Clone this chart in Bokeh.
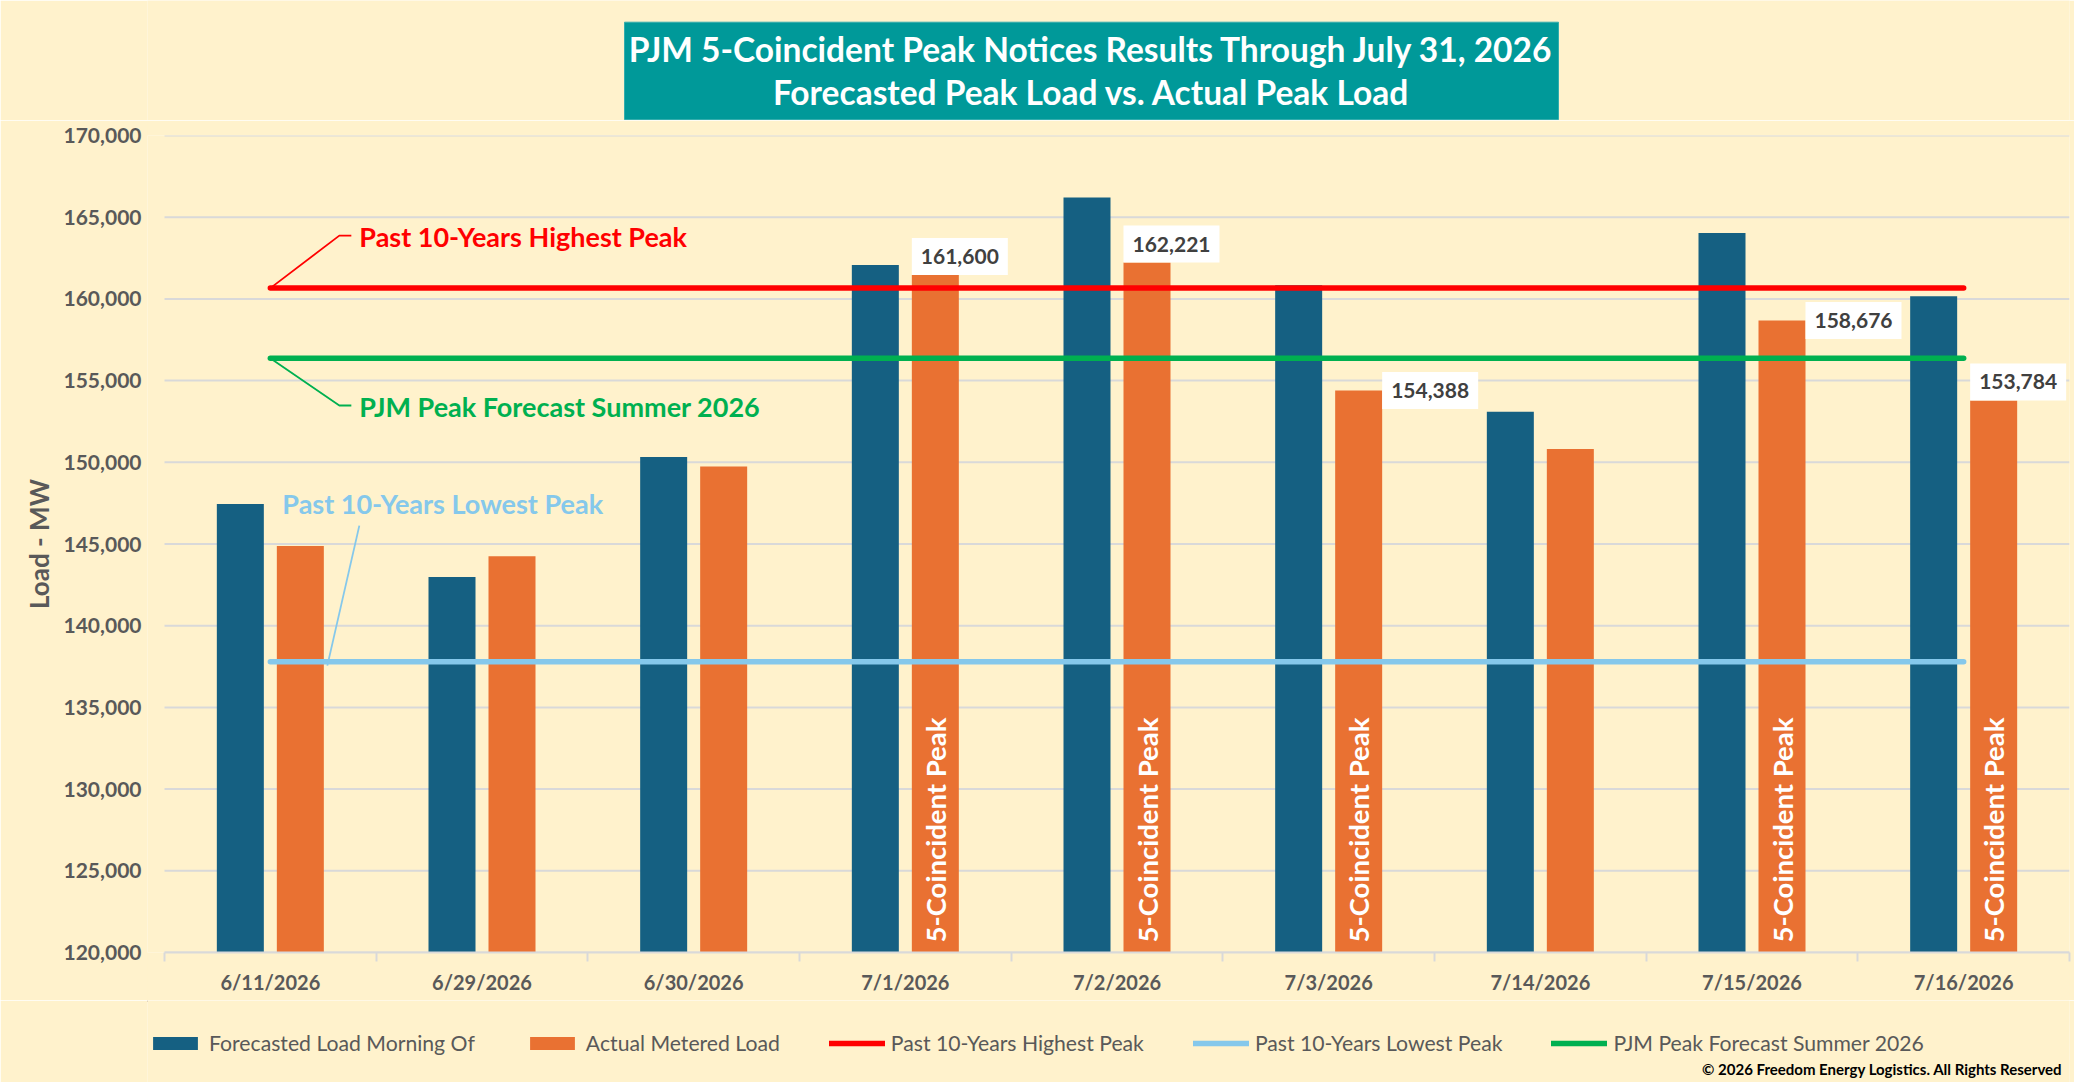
import numpy as np
from bokeh.plotting import figure
from bokeh.layouts import column
from bokeh.models import Range1d, FixedTicker, Legend, LegendItem, NumeralTickFormatter
from bokeh.core.properties import value
from bokeh.embed import file_html
from bokeh.resources import INLINE

# ---------------- data ----------------
dates = ["6/11/2026", "6/29/2026", "6/30/2026", "7/1/2026", "7/2/2026",
         "7/3/2026", "7/14/2026", "7/15/2026", "7/16/2026"]
forecast_load = [147450, 142980, 150320, 162080, 166210, 160830, 153100, 164040, 160160]
actual_load = [144880, 144250, 149740, 161460, 162221, 154388, 150820, 158676, 153784]
is_5cp = [False, False, False, True, True, True, False, True, True]
cp_value_labels = ["161,600", "162,221", "154,388", "158,676", "153,784"]
cp_label_side = ["above", "above", "right", "right", "above"]
past10_high = 160660
past10_low = 137800
pjm_forecast = 156370
y_ticks = [120000, 125000, 130000, 135000, 140000, 145000,
           150000, 155000, 160000, 165000, 170000]

title_lines = ["PJM 5-Coincident Peak Notices Results Through July 31, 2026",
               "Forecasted Peak Load vs. Actual Peak Load"]
series_names = ["Forecasted Load Morning Of", "Actual Metered Load",
                "Past 10-Years Highest Peak", "Past 10-Years Lowest Peak",
                "PJM Peak Forecast Summer 2026"]
cp_text = "5-Coincident Peak"
copyright_text = "\u00a9 2026 Freedom Energy Logistics. All Rights Reserved"

# ---------------- style ----------------
BG = "#FFF2CC"
BLUE = "#156082"
ORANGE = "#E97132"
RED = "#FF0000"
LBLUE = "#85C8EB"
GREEN = "#00B050"
GRID = "#D9D9D9"
GRAY = "#595959"
TEAL = "#009999"
FONT = "Lato"

W = 2074
TOP_H, MAIN_H, BOT_H = 120, 880, 82
AXIS_LEFT = 164            # where the category axis begins (px)
ML, MR, MT, MB = 147, 5, 15, 48   # frame starts a little left of the axis (legend room)
n = len(dates)
cx = (W - AXIS_LEFT - MR) / n                          # px per category
cy = (MAIN_H - MT - MB) / (y_ticks[-1] - y_ticks[0])  # px per MW


def dx(px):
    return px / cx


def dy(px):
    return px / cy


def decor_figure(h):
    # frames of a column are aligned with the main chart -> data x == page px
    f = figure(width=W, height=h, x_range=Range1d(ML, W - MR), y_range=Range1d(h, 0),
               output_backend="svg", toolbar_location=None, tools="",
               x_axis_location=None, y_axis_location=None,
               min_border=0, background_fill_color=BG, border_fill_color=BG,
               outline_line_color=None)
    f.xgrid.visible = False
    f.ygrid.visible = False
    return f


# ================= title strip =================
top = decor_figure(TOP_H)
top.quad(left=[624], right=[1558], top=[21.7], bottom=[119],
         fill_color=TEAL, line_color="#33ADAD", line_width=1)
top.text(x=[1091, 1091], y=[48.5, 91], text=title_lines,
         text_align="center", text_baseline="middle", text_color="white",
         text_font=value(FONT), text_font_style="bold", text_font_size="33.5px")

# ================= main chart =================
p = figure(width=W, height=MAIN_H, x_range=Range1d(-dx(AXIS_LEFT - ML), n),
           y_range=Range1d(y_ticks[0], y_ticks[-1]),
           output_backend="svg", toolbar_location=None, tools="",
           min_border_left=ML, min_border_right=MR,
           min_border_top=MT, min_border_bottom=MB,
           background_fill_color=BG, border_fill_color=BG,
           outline_line_color=None)

centers = np.arange(n) + 0.5
bar_w = dx(47)
off = dx(30)
xf = centers - off
xa = centers + off

# horizontal gridlines spanning the category axis only
p.xgrid.visible = False
p.ygrid.visible = False
p.segment(x0=[0] * len(y_ticks), x1=[n] * len(y_ticks), y0=y_ticks, y1=y_ticks,
          line_color=GRID, line_width=2)

p.yaxis.ticker = FixedTicker(ticks=y_ticks)
p.yaxis.formatter = NumeralTickFormatter(format="0,0")
p.yaxis.axis_line_color = None
p.yaxis.major_tick_line_color = None
p.yaxis.minor_tick_line_color = None
p.yaxis.major_tick_out = 0
p.yaxis.minor_tick_out = 0
p.yaxis.major_label_standoff = 23 - (AXIS_LEFT - ML)
p.yaxis.major_label_text_font = FONT
p.yaxis.major_label_text_font_style = "bold"
p.yaxis.major_label_text_font_size = "21px"
p.yaxis.major_label_text_color = GRAY
p.yaxis.axis_label = "Load - MW"
p.yaxis.axis_label_text_font = FONT
p.yaxis.axis_label_text_font_style = "bold"
p.yaxis.axis_label_text_font_size = "26px"
p.yaxis.axis_label_text_color = GRAY
p.yaxis.axis_label_standoff = 6

p.xaxis.bounds = (0, n)
p.xaxis.ticker = FixedTicker(ticks=list(centers), minor_ticks=list(range(n + 1)))
p.xaxis.major_label_overrides = {float(c): d for c, d in zip(centers, dates)}
p.xaxis.axis_line_color = GRID
p.xaxis.axis_line_width = 2
p.xaxis.major_tick_line_color = None
p.xaxis.major_tick_out = 0
p.xaxis.major_tick_in = 0
p.xaxis.minor_tick_line_color = GRID
p.xaxis.minor_tick_line_width = 2
p.xaxis.minor_tick_out = 9
p.xaxis.minor_tick_in = 0
p.xaxis.major_label_standoff = 8
p.xaxis.major_label_text_font = FONT
p.xaxis.major_label_text_font_style = "bold"
p.xaxis.major_label_text_font_size = "20px"
p.xaxis.major_label_text_color = GRAY

# bars
p.vbar(x=xf, top=forecast_load, bottom=y_ticks[0], width=bar_w,
       fill_color=BLUE, line_color=None)
p.vbar(x=xa, top=actual_load, bottom=y_ticks[0], width=bar_w,
       fill_color=ORANGE, line_color=None)

# reference lines
lx = [centers[0], centers[-1]]
line_style = dict(line_width=5.5, line_cap="round")
p.line(lx, [past10_high] * 2, line_color=RED, **line_style)
p.line(lx, [past10_low] * 2, line_color=LBLUE, **line_style)
p.line(lx, [pjm_forecast] * 2, line_color=GREEN, **line_style)

# leader lines + callouts
c0 = centers[0]
p.line([c0, c0 + dx(69), c0 + dx(81)],
       [past10_high, past10_high + dy(52.5), past10_high + dy(52.5)],
       line_color=RED, line_width=1.8)
p.line([c0, c0 + dx(69), c0 + dx(81)],
       [pjm_forecast, pjm_forecast - dy(47.3), pjm_forecast - dy(47.3)],
       line_color=GREEN, line_width=1.8)
p.line([c0 + dx(89), c0 + dx(57)],
       [past10_low + dy(136), past10_low - dy(4)],
       line_color=LBLUE, line_width=1.8)

callout_style = dict(text_align="left", text_baseline="middle",
                     text_font=value(FONT), text_font_style="bold",
                     text_font_size="27px")
p.text(x=[c0 + dx(89)], y=[past10_high + dy(51.7)], text=[series_names[2]],
       text_color=RED, **callout_style)
p.text(x=[c0 + dx(89)], y=[pjm_forecast - dy(47.8)], text=[series_names[4]],
       text_color=GREEN, **callout_style)
p.text(x=[c0 + dx(12)], y=[past10_low + dy(158.5)], text=[series_names[3]],
       text_color=LBLUE, **callout_style)

# 5CP vertical labels inside orange bars
cp_x = [x for x, f in zip(xa, is_5cp) if f]
cp_v = [v for v, f in zip(actual_load, is_5cp) if f]
p.text(x=cp_x, y=[y_ticks[0]] * len(cp_x), text=[cp_text] * len(cp_x),
       angle=np.pi / 2, text_align="left", text_baseline="middle",
       y_offset=-10, text_color="white", text_font=value(FONT),
       text_font_style="bold", text_font_size="27.5px")

# value labels for 5CP bars
lab_style = dict(text_font=value(FONT), text_font_style="bold", text_font_size="21px",
                 text_color="#404040", background_fill_color="white",
                 padding=(9, 11))
above = [i for i, s in enumerate(cp_label_side) if s == "above"]
right = [i for i, s in enumerate(cp_label_side) if s == "right"]
p.text(x=[cp_x[i] - bar_w / 2 for i in above], y=[cp_v[i] for i in above],
       text=[cp_value_labels[i] for i in above], text_align="left",
       text_baseline="bottom", **lab_style)
p.text(x=[cp_x[i] + bar_w / 2 for i in right], y=[cp_v[i] for i in right],
       text=[cp_value_labels[i] for i in right], text_align="left",
       text_baseline="middle", **lab_style)

# ================= legend strip =================
bot = decor_figure(BOT_H)
hidden_x = [-10000, -9999]   # legend proxies, placed outside the visible range
g_fc = bot.vbar(x=hidden_x[:1], top=[1], width=1, fill_color=BLUE, line_color=None)
g_ac = bot.vbar(x=hidden_x[:1], top=[1], width=1, fill_color=ORANGE, line_color=None)
g_hi = bot.line(x=hidden_x, y=[1, 1], line_color=RED, **line_style)
g_lo = bot.line(x=hidden_x, y=[1, 1], line_color=LBLUE, **line_style)
g_pf = bot.line(x=hidden_x, y=[1, 1], line_color=GREEN, **line_style)
legend = Legend(items=[LegendItem(label=s, renderers=[r]) for s, r in
                       zip(series_names, [g_fc, g_ac, g_hi, g_lo, g_pf])],
                orientation="horizontal", location=(0, 26),
                glyph_width=56, glyph_height=16, label_standoff=6, spacing=49,
                padding=0, margin=0, border_line_color=None,
                background_fill_alpha=0, label_text_font=FONT,
                label_text_font_size="21.2px", label_text_color=GRAY)
bot.add_layout(legend, "center")
bot.text(x=[2062], y=[68], text=[copyright_text], text_align="right",
         text_baseline="middle", text_color="black", text_font=value(FONT),
         text_font_style="bold", text_font_size="15px")

layout = column(top, p, bot, spacing=0)
open("out.html", "w").write(file_html(layout, INLINE))
